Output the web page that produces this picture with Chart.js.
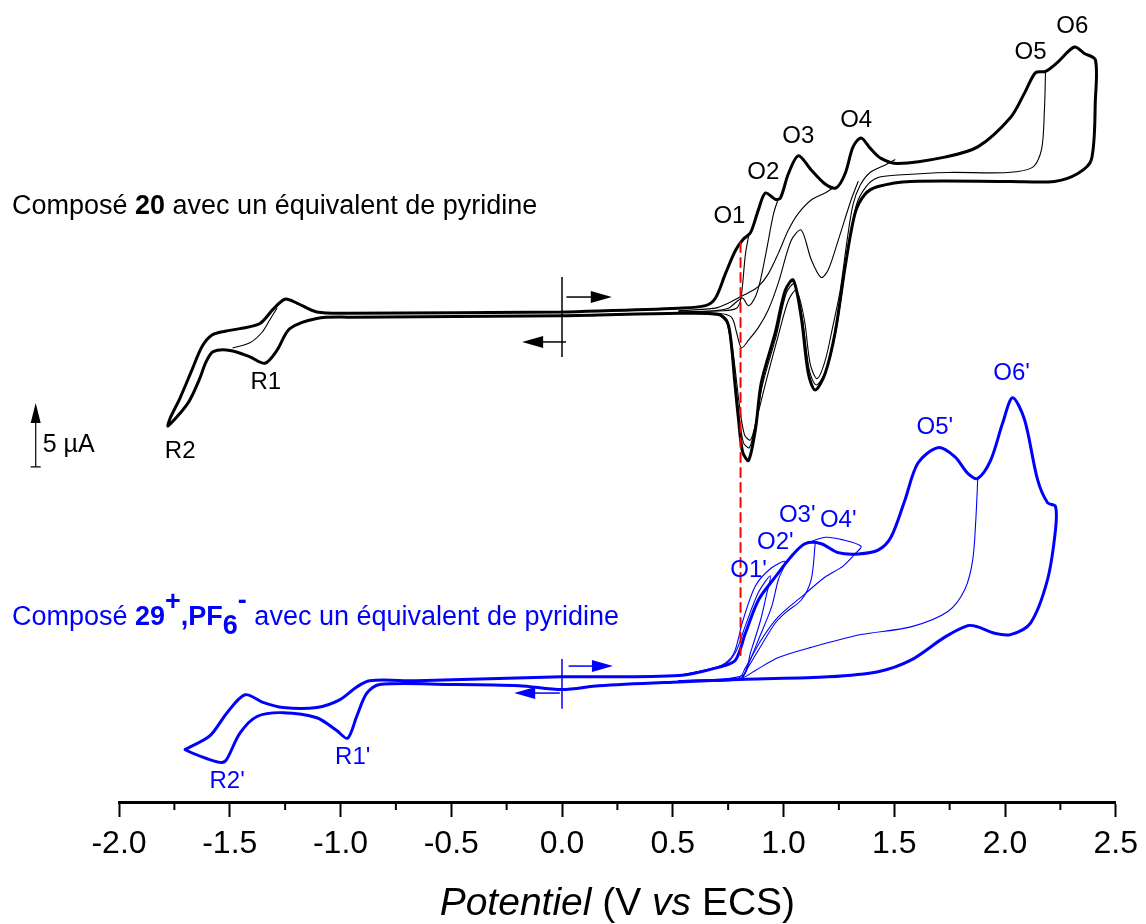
<!DOCTYPE html>
<html>
<head>
<meta charset="utf-8">
<script src="https://cdn.jsdelivr.net/npm/chart.js@4.4.1/dist/chart.umd.min.js"></script>
<style>
  html, body { margin: 0; padding: 0; background: #fff; }
  #wrap { width: 1146px; height: 924px; position: relative; }
</style>
</head>
<body>
<div id="wrap"><canvas id="myChart"></canvas></div>
<script>
// Potentials in V vs ECS, currents in µA (each compound relative to its own zero)
const blackFullE = [0, 0.527, 0.648, 0.693, 0.738, 0.783, 0.819, 0.851, 0.887, 0.918, 0.963, 0.986, 1.022, 1.067, 1.125, 1.188, 1.238, 1.278, 1.314, 1.350, 1.391, 1.440, 1.517, 1.728, 1.877, 2.025, 2.088, 2.138, 2.183, 2.237, 2.313, 2.358, 2.408, 2.408, 2.390, 2.327, 2.223, 2.025, 1.575, 1.427, 1.368, 1.323, 1.278, 1.233, 1.188, 1.143, 1.112, 1.080, 1.044, 1.008, 0.963, 0.900, 0.873, 0.842, 0.815, 0.797, 0.779, 0.765, 0.747, 0.707, 0.527, 0, -0.959, -1.107, -1.229, -1.287, -1.341, -1.409, -1.499, -1.575, -1.607, -1.638, -1.688, -1.778, -1.769, -1.724, -1.670, -1.625, -1.580, -1.521, -1.454, -1.364, -1.305, -1.251, -1.197, -1.107, -0.959, 0];
const blackFullI = [0, 0.3, 0.5, 1.1, 3.0, 4.8, 5.7, 6.2, 8.0, 9.3, 8.8, 8.9, 10.8, 12.2, 11.1, 10.0, 9.7, 10.8, 12.9, 13.6, 12.8, 12.0, 11.6, 12.1, 12.9, 15.2, 17.1, 18.7, 18.8, 19.5, 20.7, 20.2, 19.7, 16.6, 11.9, 10.8, 10.2, 10.2, 10.2, 9.8, 9.2, 7.7, 3.5, -1.6, -4.8, -6.1, -4.8, -0.4, 2.5, 1.7, -1.6, -5.5, -9.2, -11.6, -10.9, -8.4, -5.3, -2.6, -0.8, -0.2, -0.1, -0.3, -0.4, -0.5, -1.3, -3.0, -4.0, -3.5, -3.0, -3.1, -3.9, -5.3, -7.1, -8.9, -8.3, -6.7, -4.5, -2.7, -1.8, -1.5, -1.3, -0.9, 0.2, 1.0, 0.7, 0, -0.1, 0];

// earlier scans, reversed at lower potentials (return branches)
const blackScanFE = [2.183, 2.178, 2.165, 2.124, 2.012, 1.742, 1.517, 1.427, 1.373, 1.328, 1.283, 1.238, 1.193, 1.148, 1.116, 1.085, 1.049, 1.013, 0.968, 0.905, 0.873, 0.846, 0.819, 0.797, 0.770, 0.747, 0.707, 0.527];
const blackScanFI = [18.8, 15.8, 12.7, 11.3, 10.9, 10.9, 10.7, 10.5, 9.8, 8.3, 3.9, -1.4, -4.5, -5.7, -4.5, -0.5, 2.2, 1.5, -1.8, -5.7, -8.8, -10.6, -10.2, -7.7, -3.8, -1.0, -0.2, -0.1];
const blackScanEE = [1.503, 1.449, 1.391, 1.346, 1.314, 1.287, 1.256, 1.224, 1.188, 1.152, 1.121, 1.094, 1.058, 1.022, 0.977, 0.923, 0.878, 0.851, 0.824, 0.801, 0.774, 0.747, 0.698, 0.527];
const blackScanEI = [11.9, 11.4, 10.9, 9.9, 8.4, 5.6, 1.7, -1.0, -3.8, -5.2, -4.1, -0.6, 1.7, 0.9, -1.8, -5.3, -8.4, -10.0, -9.6, -7.3, -3.4, -0.9, -0.2, -0.1];
const blackScanDE = [1.337, 1.305, 1.247, 1.202, 1.170, 1.125, 1.080, 1.035, 0.977, 0.932, 0.887, 0.842, 0.810, 0.788, 0.765, 0.707, 0.527];
const blackScanDI = [10.2, 8.75, 5.6, 3.3, 2.7, 4.1, 6.4, 5.6, 2.3, 0.2, -1.2, -2.2, -2.8, -1.6, -0.4, -0.1, 0];
const blackScanCE = [1.224, 1.188, 1.125, 1.067, 1.022, 0.977, 0.932, 0.887, 0.842, 0.806, 0.752, 0.693, 0.527];
const blackScanCI = [9.7, 9.3, 8.75, 7.7, 6.4, 4.6, 3.0, 2.0, 1.5, 1.2, 0.7, 0.3, 0.1];
const blackScanBE = [0.977, 0.954, 0.923, 0.896, 0.873, 0.842, 0.815, 0.788, 0.752, 0.684, 0.527];
const blackScanBI = [8.9, 7.6, 4.8, 2.5, 1.2, 0.5, 1.1, 0.8, 0.3, 0.1, 0];
const blackScanAE = [0.842, 0.828, 0.815, 0.806, 0.788, 0.729, 0.527];
const blackScanAI = [5.9, 4.5, 2.1, 0.9, 0.3, 0.1, 0];
const blackScanRE = [-1.485, -1.409, -1.355, -1.319, -1.287];
const blackScanRI = [-2.8, -2.4, -1.6, -0.6, 0.3];

const blueFullE = [0, 0.527, 0.720, 0.783, 0.828, 0.887, 0.963, 1.035, 1.098, 1.170, 1.247, 1.337, 1.427, 1.485, 1.548, 1.607, 1.697, 1.773, 1.832, 1.877, 1.935, 1.989, 2.034, 2.088, 2.147, 2.192, 2.228, 2.228, 2.192, 2.115, 2.025, 1.953, 1.877, 1.832, 1.728, 1.575, 1.427, 1.202, 0.828, 0.527, 0.167, 0, -0.194, -0.509, -0.824, -0.882, -0.927, -0.968, -1.017, -1.107, -1.260, -1.377, -1.454, -1.512, -1.535, -1.602, -1.701, -1.692, -1.589, -1.512, -1.431, -1.350, -1.260, -1.107, -1.004, -0.927, -0.869, -0.657, 0];
const blueFullI = [0.1, 0.2, 0.9, 1.4, 3.5, 6.1, 7.9, 9.5, 10.5, 10.5, 9.8, 9.7, 10.0, 11.0, 13.9, 16.8, 18.0, 17.3, 16.0, 15.6, 17.0, 19.9, 21.9, 20.2, 15.5, 13.7, 13.4, 11.6, 7.7, 4.3, 3.4, 3.5, 4.0, 4.1, 3.2, 1.4, 0.5, 0.1, -0.1, -0.3, -0.6, -0.9, -0.6, -0.5, -0.5, -1.2, -3.0, -4.7, -4.1, -3.1, -2.7, -3.0, -4.3, -6.3, -6.6, -6.3, -5.6, -5.5, -4.5, -2.7, -1.3, -1.9, -2.3, -2.3, -1.7, -0.7, -0.2, -0.2, 0.1];

const blueScan5E = [1.877, 1.868, 1.854, 1.818, 1.742, 1.575, 1.350, 1.125, 0.977, 0.873, 0.810, 0.527];
const blueScan5I = [15.6, 12.3, 9.2, 6.9, 5.2, 4.0, 3.4, 2.4, 1.6, 0.6, 0, -0.2];
const blueScan4E = [1.098, 1.188, 1.269, 1.350, 1.328, 1.269, 1.188, 1.098, 0.977, 0.900, 0.828, 0.797, 0.527];
const blueScan4I = [10.5, 11.0, 10.8, 10.3, 9.8, 8.75, 7.9, 6.6, 4.8, 3.0, 0.8, 0, -0.2];
const blueScan3E = [1.143, 1.125, 1.080, 1.008, 0.963, 0.887, 0.828, 0.801, 0.527];
const blueScan3I = [10.5, 7.7, 6.1, 5.1, 4.3, 2.2, 0.5, -0.1, -0.2];
const blueScan2E = [0.527, 0.720, 0.775, 0.815, 0.873, 0.945, 1.008, 0.977, 0.945, 0.887, 0.837, 0.806, 0.527];
const blueScan2I = [0.2, 1.0, 1.9, 4.4, 7.2, 8.6, 9.1, 7.7, 5.5, 3.0, 0.9, -0.1, -0.2];
const blueScan1E = [0.527, 0.729, 0.783, 0.828, 0.887, 0.941, 0.923, 0.896, 0.851, 0.815, 0.527];
const blueScan1I = [0.2, 1.0, 2.0, 4.1, 6.7, 8.0, 6.5, 4.5, 2.0, 0.2, -0.2];

const BLUE_SHIFT = -28.6; // vertical stacking of the second voltammogram (µA)
const O1_POTENTIAL = 0.806;
const xTickValues = [-2, -1.5, -1, -0.5, 0, 0.5, 1, 1.5, 2, 2.5];
const xMinorTicks = [-1.75, -1.25, -0.75, -0.25, 0.25, 0.75, 1.25, 1.75, 2.25];

const blackLabels = [['O1', 0.756, 7.5], ['O2', 0.909, 10.9], ['O3', 1.067, 13.7], ['O4', 1.328, 15.0],
  ['O5', 2.115, 20.3], ['O6', 2.304, 22.3], ['R1', -1.337, -5.5], ['R2', -1.724, -10.9]];
const blueLabels = [["O1'", 0.842, -20.2], ["O2'", 0.963, -18.0], ["O3'", 1.062, -15.9], ["O4'", 1.247, -16.25],
  ["O5'", 1.683, -9.0], ["O6'", 2.030, -4.8], ["R1'", -0.945, -34.8], ["R2'", -1.512, -36.7]];

const FONT = '"Liberation Sans", Arial, Helvetica, sans-serif';
const BLACK = '#000000';
const BLUE = '#0000ff';

const toPoints = (E, I, shift = 0) => E.map((e, k) => ({ x: e, y: I[k] + shift }));
const trace = (E, I, shift, color, width) => ({
  data: toPoints(E, I, shift),
  showLine: true,
  borderColor: color,
  borderWidth: width,
  pointRadius: 0,
  tension: 0.3,
  fill: false,
});

const datasets = [
  {
    data: [{ x: O1_POTENTIAL, y: 5.4 }, { x: O1_POTENTIAL, y: -26.8 }],
    showLine: true, borderColor: '#ff0000', borderWidth: 2, borderDash: [9, 6], pointRadius: 0, tension: 0,
  },
  trace(blueFullE, blueFullI, BLUE_SHIFT, BLUE, 3),
  trace(blueScan5E, blueScan5I, BLUE_SHIFT, BLUE, 1.1),
  trace(blueScan4E, blueScan4I, BLUE_SHIFT, BLUE, 1.1),
  trace(blueScan3E, blueScan3I, BLUE_SHIFT, BLUE, 1.1),
  trace(blueScan2E, blueScan2I, BLUE_SHIFT, BLUE, 1.1),
  trace(blueScan1E, blueScan1I, BLUE_SHIFT, BLUE, 1.1),
  trace(blackFullE, blackFullI, 0, BLACK, 3),
  trace(blackScanFE, blackScanFI, 0, BLACK, 1.1),
  trace(blackScanEE, blackScanEI, 0, BLACK, 1.1),
  trace(blackScanDE, blackScanDI, 0, BLACK, 1.1),
  trace(blackScanCE, blackScanCI, 0, BLACK, 1.1),
  trace(blackScanBE, blackScanBI, 0, BLACK, 1.1),
  trace(blackScanAE, blackScanAI, 0, BLACK, 1.1),
  trace(blackScanRE, blackScanRI, 0, BLACK, 1.1),
];

function drawRuns(ctx, x, y, runs, size, color, align) {
  let total = 0;
  runs.forEach(r => {
    ctx.font = `${r.italic ? 'italic ' : ''}${r.bold ? 'bold ' : ''}${Math.round(size * (r.scale || 1))}px ${FONT}`;
    r.w = ctx.measureText(r.t).width;
    total += r.w;
  });
  let cx = align === 'center' ? x - total / 2 : x;
  ctx.fillStyle = color;
  ctx.textAlign = 'left';
  ctx.textBaseline = 'alphabetic';
  runs.forEach(r => {
    ctx.font = `${r.italic ? 'italic ' : ''}${r.bold ? 'bold ' : ''}${Math.round(size * (r.scale || 1))}px ${FONT}`;
    ctx.fillText(r.t, cx, y + (r.dy || 0) * size);
    cx += r.w;
  });
}

function arrow(ctx, x0, x1, yy, color, lw) {
  const dir = Math.sign(x1 - x0);
  ctx.strokeStyle = color;
  ctx.fillStyle = color;
  ctx.lineWidth = lw;
  ctx.beginPath();
  ctx.moveTo(x0, yy);
  ctx.lineTo(x1 - dir * 18, yy);
  ctx.stroke();
  ctx.beginPath();
  ctx.moveTo(x1, yy);
  ctx.lineTo(x1 - dir * 21, yy - 6);
  ctx.lineTo(x1 - dir * 21, yy + 6);
  ctx.closePath();
  ctx.fill();
}

const annotate = {
  id: 'annotate',
  afterDraw(chart) {
    const { ctx, scales: { x, y } } = chart;
    const px = v => x.getPixelForValue(v);
    const py = v => y.getPixelForValue(v);
    ctx.save();

    // minor ticks
    ctx.strokeStyle = BLACK;
    ctx.lineWidth = 2;
    xMinorTicks.forEach(v => {
      ctx.beginPath();
      ctx.moveTo(px(v), x.top);
      ctx.lineTo(px(v), x.top + 8);
      ctx.stroke();
    });

    // axis title
    drawRuns(ctx, (x.left + x.right) / 2, 915, [
      { t: 'Potentiel', italic: true }, { t: ' (V ' }, { t: 'vs', italic: true }, { t: ' ECS)' },
    ], 39, BLACK, 'center');

    // peak labels
    ctx.textAlign = 'center';
    ctx.textBaseline = 'middle';
    ctx.font = `24px ${FONT}`;
    ctx.fillStyle = BLACK;
    blackLabels.forEach(([t, e, i]) => ctx.fillText(t, px(e), py(i)));
    ctx.fillStyle = BLUE;
    blueLabels.forEach(([t, e, i]) => ctx.fillText(t, px(e), py(i)));

    // scan direction markers at 0 V
    ctx.strokeStyle = BLACK;
    ctx.lineWidth = 1.5;
    ctx.beginPath();
    ctx.moveTo(px(0), py(2.73));
    ctx.lineTo(px(0), py(-3.52));
    ctx.stroke();
    arrow(ctx, px(0.02), px(0.225), py(1.17), BLACK, 1.5);
    arrow(ctx, px(0.018), px(-0.18), py(-2.34), BLACK, 1.5);

    ctx.strokeStyle = BLUE;
    ctx.lineWidth = 1.5;
    ctx.beginPath();
    ctx.moveTo(px(0), py(-27.1));
    ctx.lineTo(px(0), py(-31.0));
    ctx.stroke();
    arrow(ctx, px(0.03), px(0.23), py(-27.66), BLUE, 1.5);
    arrow(ctx, px(-0.01), px(-0.216), py(-29.77), BLUE, 1.5);

    // 5 µA scale bar
    const sx = px(-2.376);
    ctx.strokeStyle = BLACK;
    ctx.fillStyle = BLACK;
    ctx.lineWidth = 1.2;
    ctx.beginPath();
    ctx.moveTo(sx, py(-12.1));
    ctx.lineTo(sx, py(-7.1) + 16);
    ctx.moveTo(sx - 5, py(-12.1));
    ctx.lineTo(sx + 5, py(-12.1));
    ctx.stroke();
    ctx.beginPath();
    ctx.moveTo(sx, py(-7.1));
    ctx.lineTo(sx - 5, py(-7.1) + 20);
    ctx.lineTo(sx + 5, py(-7.1) + 20);
    ctx.closePath();
    ctx.fill();
    ctx.font = `25px ${FONT}`;
    ctx.textAlign = 'left';
    ctx.textBaseline = 'middle';
    ctx.fillText('5 µA', sx + 7, py(-10.4));

    // compound captions
    drawRuns(ctx, 12, 214, [
      { t: 'Composé ' }, { t: '20', bold: true }, { t: ' avec un équivalent de pyridine' },
    ], 27, BLACK, 'left');
    drawRuns(ctx, 12, 625, [
      { t: 'Composé ' }, { t: '29', bold: true }, { t: '+', bold: true, dy: -0.55 },
      { t: ',PF', bold: true }, { t: '6', bold: true, dy: 0.35 }, { t: '-', bold: true, dy: -0.6 },
      { t: ' avec un équivalent de pyridine' },
    ], 27, BLUE, 'left');

    ctx.restore();
  },
};

new Chart(document.getElementById('myChart'), {
  type: 'scatter',
  data: { datasets },
  options: {
    responsive: true,
    maintainAspectRatio: false,
    animation: false,
    devicePixelRatio: 1,
    layout: { padding: { left: 119, right: 22, top: 0, bottom: 0 } },
    plugins: { legend: { display: false }, tooltip: { enabled: false } },
    elements: { point: { radius: 0 }, line: { borderCapStyle: 'round', borderJoinStyle: 'round' } },
    scales: {
      x: {
        type: 'linear',
        position: 'bottom',
        min: -2,
        max: 2.5,
        afterFit: (scale) => { scale.height = 122; },
        afterBuildTicks: (scale) => { scale.ticks = xTickValues.map(v => ({ value: v })); },
        border: { display: true, color: BLACK, width: 3 },
        grid: { drawOnChartArea: false, drawTicks: true, tickLength: 15, tickWidth: 2, tickColor: BLACK },
        ticks: {
          autoSkip: false,
          maxRotation: 0,
          padding: 8,
          color: BLACK,
          font: { family: FONT, size: 32 },
          callback: (v) => Number(v).toFixed(1),
        },
      },
      y: { type: 'linear', display: false, min: -38.28, max: 24.375 },
    },
  },
  plugins: [annotate],
});
</script>
</body>
</html>
